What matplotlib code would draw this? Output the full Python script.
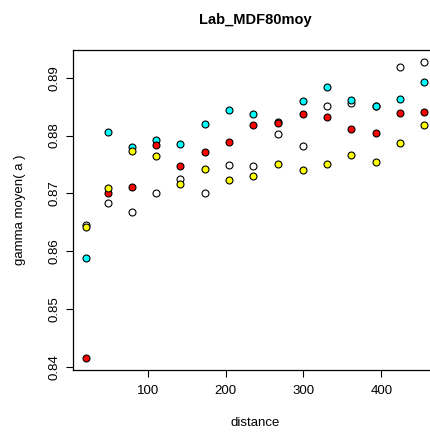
import matplotlib
matplotlib.use('Agg')
import matplotlib.pyplot as plt

distance = [20.7, 48.6, 79.8, 110.7, 142.0, 173.3, 204.9, 235.8,
            267.5, 299.0, 330.0, 361.7, 393.0, 424.3, 455.5]

gamma_white = [0.8646, 0.8684, 0.8668, 0.8700, 0.8725, 0.8701, 0.8750, 0.8747,
               0.8803, 0.8782, 0.8852, 0.8856, 0.8852, 0.8918, 0.8928]
gamma_cyan = [0.8589, 0.8806, 0.8780, 0.8793, 0.8786, 0.8820, 0.8845, 0.8838,
              0.8823, 0.8860, 0.8884, 0.8861, 0.8852, 0.8864, 0.8893]
gamma_red = [0.8416, 0.8701, 0.8712, 0.8784, 0.8748, 0.8771, 0.8789, 0.8819,
             0.8822, 0.8837, 0.8832, 0.8812, 0.8804, 0.8839, 0.8841]
gamma_yellow = [0.8642, 0.8710, 0.8774, 0.8765, 0.8717, 0.8742, 0.8723, 0.8730,
                0.8751, 0.8740, 0.8751, 0.8766, 0.8755, 0.8788, 0.8819]

series = [(gamma_white, 'white'), (gamma_cyan, 'cyan'),
          (gamma_red, 'red'), (gamma_yellow, 'yellow')]

plt.rcParams['font.family'] = ['Liberation Sans', 'DejaVu Sans']

fig = plt.figure(figsize=(4.3, 4.34), dpi=100)
ax = fig.add_axes([72.5 / 430, 1 - 370 / 434, (438 - 72.5) / 430, (370 - 50) / 434])

for vals, col in series:
    ax.plot(distance, vals, linestyle='none', marker='o', markersize=5,
            markerfacecolor=col, markeredgecolor='black', markeredgewidth=0.8)

ax.set_xlim(3.3, 472.9)
ax.set_ylim(0.83948, 0.8948)
ax.set_xticks([100, 200, 300, 400])
ax.set_yticks([0.84, 0.85, 0.86, 0.87, 0.88, 0.89])
ax.set_yticklabels(['0.84', '0.85', '0.86', '0.87', '0.88', '0.89'])

ax.spines['right'].set_visible(False)
for s in ['left', 'top', 'bottom']:
    ax.spines[s].set_linewidth(0.9)

ax.tick_params(axis='both', length=5, width=0.8, labelsize=9.5, color='black')
ax.tick_params(axis='x', pad=5.5)
ax.tick_params(axis='y', pad=4, labelrotation=90)
for lbl in ax.get_yticklabels():
    lbl.set_verticalalignment('center')

fig.text(255 / 430, 1 - 24 / 434, 'Lab_MDF80moy', ha='center', va='baseline',
         fontsize=10.5, fontweight='bold')
fig.text(255 / 430, 1 - 423 / 434, 'distance', ha='center', va='center', fontsize=9.5)
fig.text(20 / 430, 1 - 210 / 434, 'gamma moyen( a )', ha='center', va='center',
         rotation=90, fontsize=9.5)

fig.savefig('out.png', dpi=100)
